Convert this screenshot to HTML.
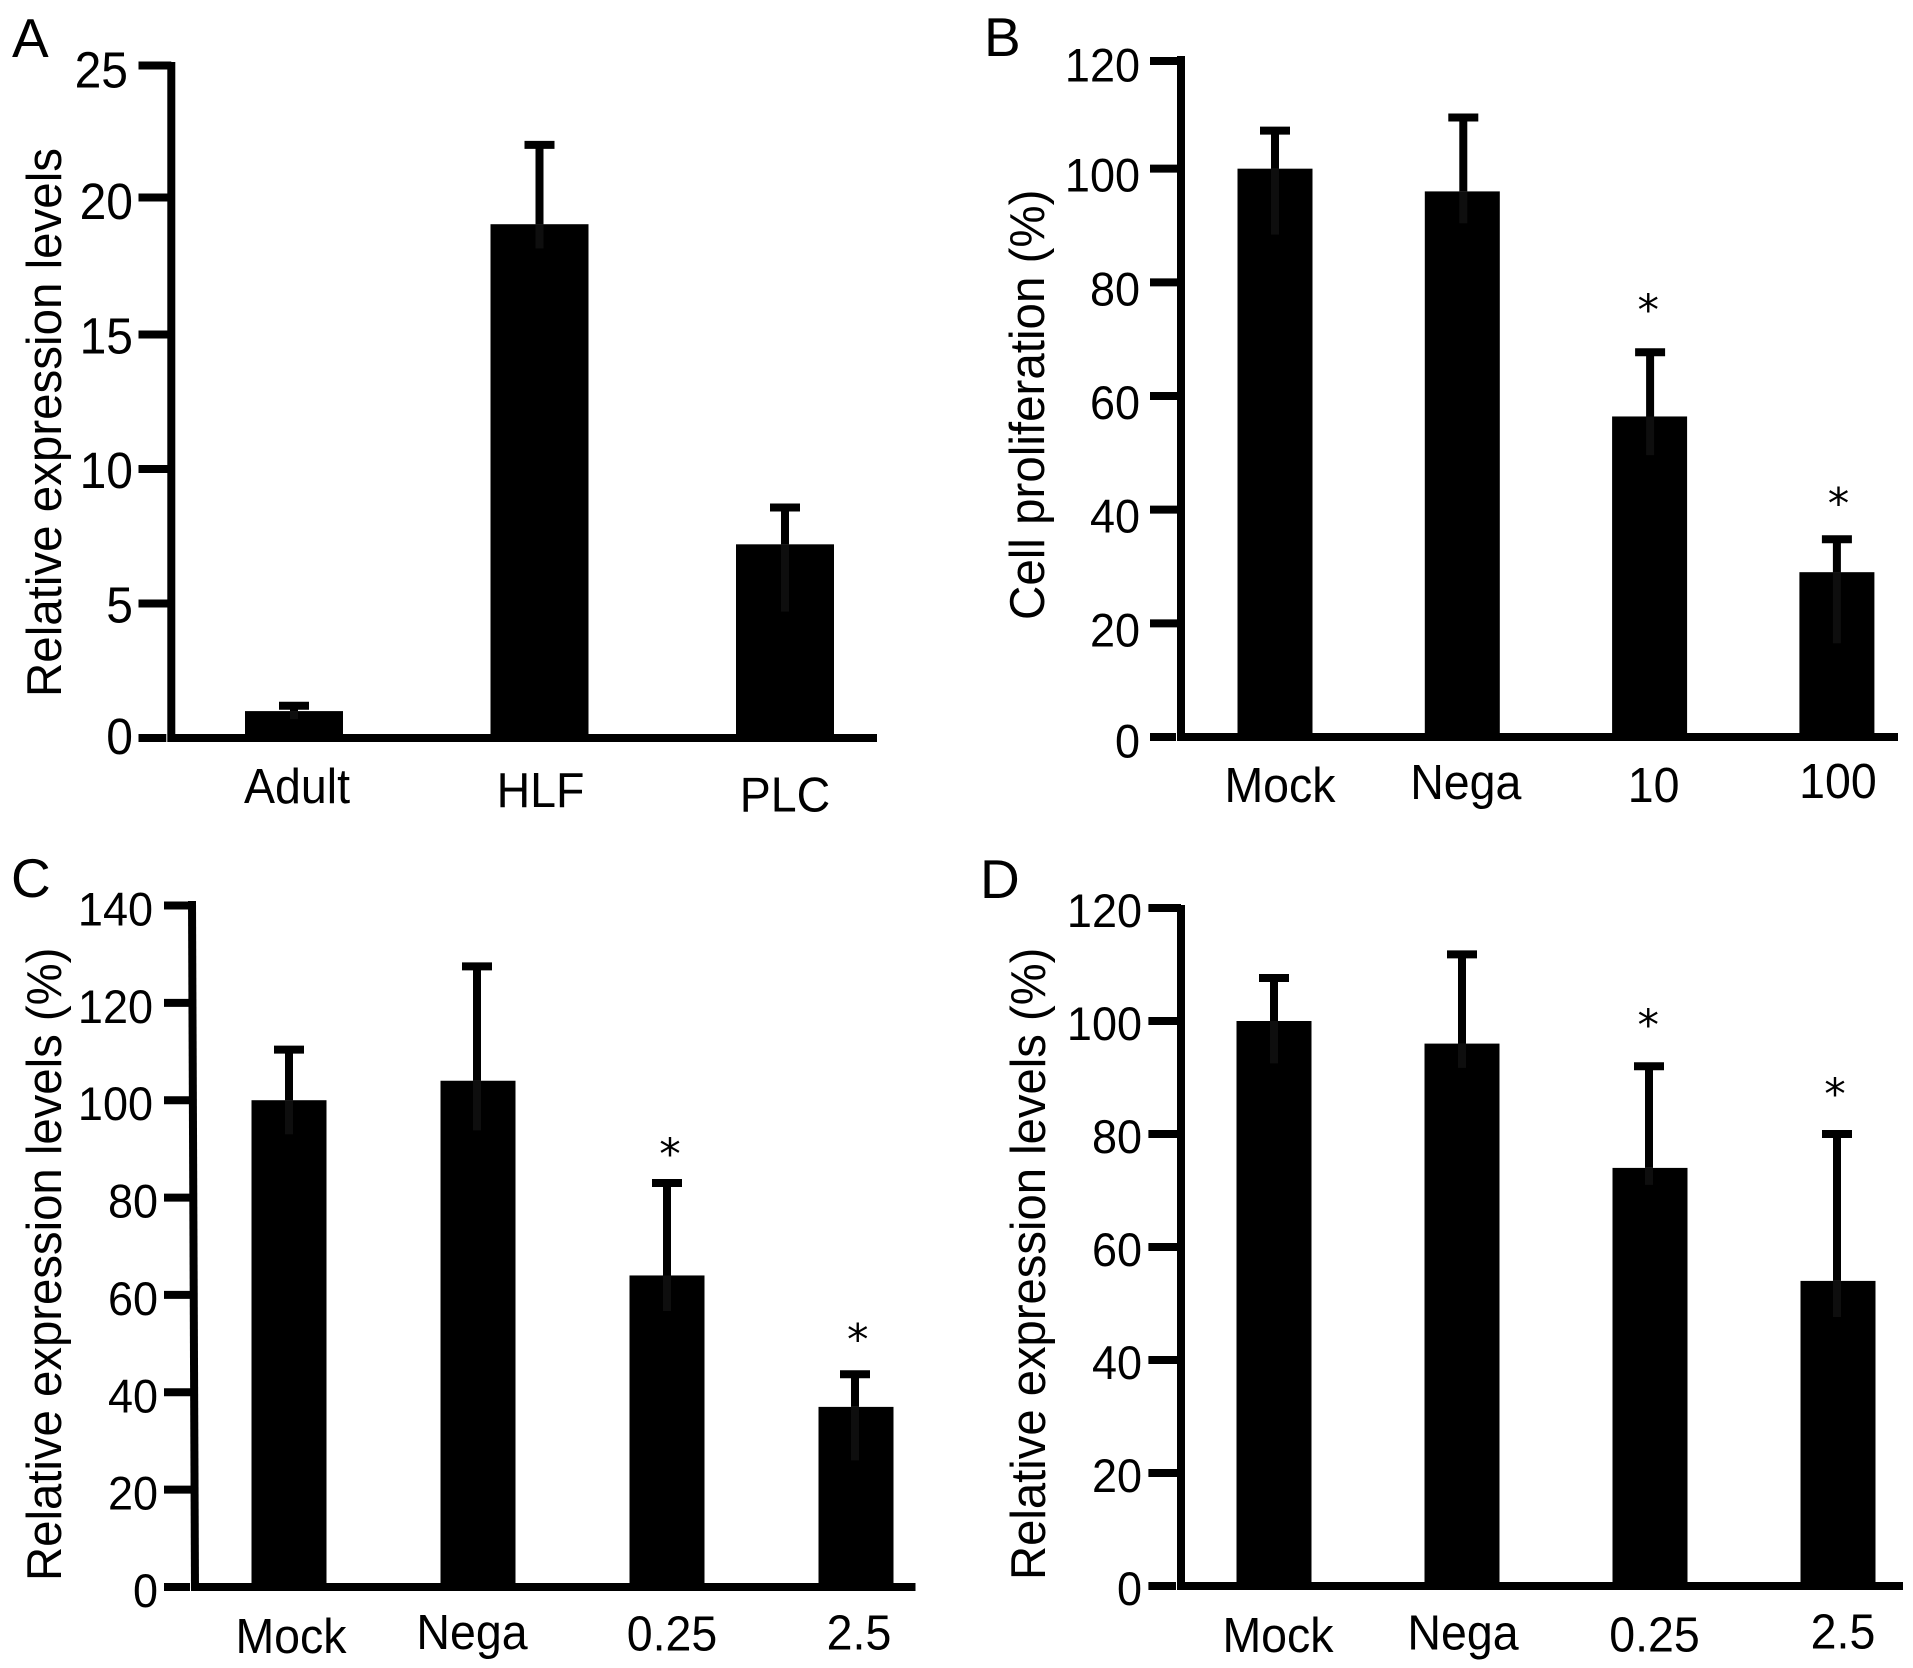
<!DOCTYPE html>
<html lang="en">
<head>
<meta charset="utf-8">
<title>Relative expression and cell proliferation bar charts</title>
<style>
html,body{margin:0;padding:0;background:#fff;}
svg{display:block;}
text{font-family:"Liberation Sans",sans-serif;fill:#000;}
</style>
</head>
<body>
<svg id="figure" xmlns="http://www.w3.org/2000/svg" width="1913" height="1668" viewBox="0 0 1913 1668">
  <rect x="0" y="0" width="1913" height="1668" fill="#fff"/>
  <g id="panel-a">
    <text x="12" y="57" font-size="55">A</text>
  </g>
  <g id="panel-b">
    <text x="984" y="56" font-size="55">B</text>
  </g>
  <g id="panel-c">
    <text x="11" y="897" font-size="55">C</text>
  </g>
  <g id="panel-d">
    <text x="980" y="898" font-size="55">D</text>
  </g>
</svg>
<script>
// Panel A data
const panelACategories = ['Adult', 'HLF', 'PLC'];
const panelAMeans = [1, 19.1, 7.2];
const panelAUpper = [1.2, 22.05, 8.57];
const panelALower = [0.7, 18.2, 4.7];
const panelATicks = [0, 5, 10, 15, 20, 25];
const panelAStars = [false, false, false];

// Panel B data
const panelBCategories = ['Mock', 'Nega', '10', '100'];
const panelBMeans = [100, 96, 56.4, 29];
const panelBUpper = [106.7, 109, 67.7, 34.8];
const panelBLower = [88.4, 90.4, 49.6, 16.5];
const panelBTicks = [0, 20, 40, 60, 80, 100, 120];
const panelBStars = [false, false, true, true];

// Panel C data
const panelCCategories = ['Mock', 'Nega', '0.25', '2.5'];
const panelCMeans = [100, 104, 64, 37];
const panelCUpper = [110.4, 127.5, 83, 43.7];
const panelCLower = [93, 93.8, 56.7, 26];
const panelCTicks = [0, 20, 40, 60, 80, 100, 120, 140];
const panelCStars = [false, false, true, true];

// Panel D data
const panelDCategories = ['Mock', 'Nega', '0.25', '2.5'];
const panelDMeans = [100, 96, 74, 54];
const panelDUpper = [107.6, 111.8, 92, 80];
const panelDLower = [92.5, 91.7, 71, 47.6];
const panelDTicks = [0, 20, 40, 60, 80, 100, 120];
const panelDStars = [false, false, true, true];

const SVG_NS = 'http://www.w3.org/2000/svg';
const TEXT_STRETCH = 1.06;

function makeSvg(tag, attrs) {
  const el = document.createElementNS(SVG_NS, tag);
  Object.keys(attrs).forEach(function (k) { el.setAttribute(k, attrs[k]); });
  return el;
}

function drawPanel(id, data, layout) {
  const root = document.getElementById(id);
  const yScale = function (v) { return layout.y0 - (v / layout.yMax) * (layout.y0 - layout.yTopTick); };
  const xScale = function (i) { return layout.firstCenter + layout.step * i; };
  const capHalf = 15;

  data.categories.forEach(function (cat, i) {
    const cx = xScale(i);
    const ex = cx + layout.errDx[i];
    const bar = makeSvg('rect', {
      x: cx - layout.barWidth / 2,
      y: yScale(data.means[i]),
      width: layout.barWidth,
      height: layout.y0 - yScale(data.means[i]),
      fill: '#000'
    });
    
    
    root.appendChild(bar);

    const stem = makeSvg('line', {
      x1: ex, x2: ex,
      y1: yScale(data.upper[i]), y2: yScale(data.means[i]),
      stroke: '#000', 'stroke-width': 8
    });
    
    
    root.appendChild(stem);

    const lowerStem = makeSvg('line', {
      x1: ex, x2: ex,
      y1: yScale(data.means[i]), y2: yScale(data.lower[i]),
      stroke: '#0e0e0e', 'stroke-width': 8
    });
    
    
    root.appendChild(lowerStem);

    const cap = makeSvg('line', {
      x1: ex - capHalf, x2: ex + capHalf,
      y1: yScale(data.upper[i]), y2: yScale(data.upper[i]),
      stroke: '#000', 'stroke-width': 8
    });
    
    
    root.appendChild(cap);

    if (data.stars[i]) {
      const star = makeSvg('text', {
        x: cx + layout.starDx[i],
        y: yScale(data.upper[i]) - layout.starGap[i] + 21,
        'font-size': 43,
        'text-anchor': 'middle',
        style: 'font-family:"DejaVu Sans",sans-serif'
      });
      star.textContent = '*';
      
      
      root.appendChild(star);
    }

    const catLabel = makeSvg('text', {
      x: 0,
      y: 0,
      transform: 'translate(' + (cx + layout.xLabelDx[i]) + ' ' + layout.xLabelBase[i] + ') scale(1 ' + TEXT_STRETCH + ')',
      'font-size': 46.5,
      'text-anchor': 'middle'
    });
    catLabel.textContent = cat;
    
    
    root.appendChild(catLabel);
  });

  const yAxis = makeSvg('line', {
    x1: layout.axisTopX, x2: layout.axisBottomX,
    y1: layout.axisTop, y2: layout.y0 + 4,
    stroke: '#000', 'stroke-width': layout.axisWidth
  });
  
  
  root.appendChild(yAxis);

  const xAxis = makeSvg('line', {
    x1: layout.axisBottomX, x2: layout.axisRight,
    y1: layout.y0, y2: layout.y0,
    stroke: '#000', 'stroke-width': layout.axisWidth
  });
  
  
  root.appendChild(xAxis);

  data.ticks.forEach(function (v) {
    const tickY = yScale(v) + (layout.tickNudge[v] || 0);
    const tick = makeSvg('line', {
      x1: layout.tickLeft, x2: layout.axisBottomX - (v === 0 ? layout.axisWidth / 2 + 1 : 0),
      y1: tickY, y2: tickY,
      stroke: '#000', 'stroke-width': 8
    });
    
    
    root.appendChild(tick);

    const labelX = (v >= 100 ? layout.tickLabelEndWide : layout.tickLabelEnd) + (layout.tickLabelDx[v] || 0);
    const labelY = yScale(v) + layout.tickLabelDy + (layout.tickLabelNudge[v] || 0) + 17;
    const tickLabel = makeSvg('text', {
      x: 0,
      y: 0,
      transform: 'translate(' + labelX + ' ' + labelY + ') scale(1 ' + TEXT_STRETCH + ')',
      'font-size': layout.tickFont,
      'text-anchor': 'end'
    });
    tickLabel.textContent = String(v);
    
    
    root.appendChild(tickLabel);
  });

  const yc = (layout.titleTop + layout.titleBottom) / 2;
  const title = makeSvg('text', {
    x: layout.titleBase,
    y: yc,
    'font-size': 49,
    'text-anchor': 'middle',
    textLength: layout.titleBottom - layout.titleTop,
    lengthAdjust: 'spacingAndGlyphs',
    transform: 'rotate(-90 ' + layout.titleBase + ' ' + yc + ')'
  });
  title.textContent = data.title;
  
  
  root.appendChild(title);
}

drawPanel('panel-a', {
  title: 'Relative expression levels',
  categories: panelACategories, means: panelAMeans, upper: panelAUpper, lower: panelALower,
  ticks: panelATicks, stars: panelAStars
}, {
  y0: 738, yMax: 25, yTopTick: 65.5, axisTop: 62, axisTopX: 171.3, axisBottomX: 171.3, axisRight: 877,
  axisWidth: 8, tickLeft: 138.5, firstCenter: 294, step: 245.5, barWidth: 98,
  errDx: [0, 0, 0], starGap: [0, 0, 0], starDx: [0, 0, 0],
  xLabelDx: [3, 1, 0], xLabelBase: [803, 807, 811.5],
  tickFont: 48, tickLabelEnd: 133, tickLabelEndWide: 133, tickLabelDy: 2,
  tickNudge: {20: -2.5}, tickLabelNudge: {25: 3, 0: -3}, tickLabelDx: {25: -5},
  titleBase: 61, titleTop: 148, titleBottom: 697
});

drawPanel('panel-b', {
  title: 'Cell proliferation (%)',
  categories: panelBCategories, means: panelBMeans, upper: panelBUpper, lower: panelBLower,
  ticks: panelBTicks, stars: panelBStars
}, {
  y0: 737, yMax: 120, yTopTick: 55, axisTop: 56, axisTopX: 1181, axisBottomX: 1181, axisRight: 1898,
  axisWidth: 8, tickLeft: 1150, firstCenter: 1275, step: 187.3, barWidth: 75,
  errDx: [0, 1, 0.5, 0], starGap: [0, 0, 48, 41.5], starDx: [0, 0, -1.3, 1.6],
  xLabelDx: [5, 3.5, 4, 1], xLabelBase: [802, 799, 802, 798],
  tickFont: 45, tickLabelEnd: 1140, tickLabelEndWide: 1140, tickLabelDy: 6,
  tickNudge: {120: 6}, tickLabelNudge: {120: 3.7, 0: -2.5}, tickLabelDx: {},
  titleBase: 1044, titleTop: 189.5, titleBottom: 620
});

drawPanel('panel-c', {
  title: 'Relative expression levels (%)',
  categories: panelCCategories, means: panelCMeans, upper: panelCUpper, lower: panelCLower,
  ticks: panelCTicks, stars: panelCStars
}, {
  y0: 1587, yMax: 140, yTopTick: 905.5, axisTop: 901, axisTopX: 192, axisBottomX: 195, axisRight: 915.5,
  axisWidth: 8, tickLeft: 164, firstCenter: 289, step: 189, barWidth: 75,
  errDx: [0, -1, 0, -1], starGap: [0, 0, 35, 41], starDx: [0, 0, 3, 1.7],
  xLabelDx: [2, -6, 5, 3], xLabelBase: [1653, 1649, 1650.6, 1649.5],
  tickFont: 45, tickLabelEnd: 158, tickLabelEndWide: 153, tickLabelDy: 3,
  tickNudge: {}, tickLabelNudge: {}, tickLabelDx: {},
  titleBase: 61, titleTop: 947.6, titleBottom: 1581
});

drawPanel('panel-d', {
  title: 'Relative expression levels (%)',
  categories: panelDCategories, means: panelDMeans, upper: panelDUpper, lower: panelDLower,
  ticks: panelDTicks, stars: panelDStars
}, {
  y0: 1586, yMax: 120, yTopTick: 908, axisTop: 905, axisTopX: 1181, axisBottomX: 1181, axisRight: 1903,
  axisWidth: 8, tickLeft: 1148.4, firstCenter: 1274, step: 188, barWidth: 75,
  errDx: [0, 0, -1, -1], starGap: [0, 0, 47, 46], starDx: [0, 0, -1.7, -3],
  xLabelDx: [4, 1, 4.5, 5], xLabelBase: [1652, 1649.5, 1651.6, 1648.5],
  tickFont: 45, tickLabelEnd: 1142, tickLabelEndWide: 1142, tickLabelDy: 2,
  tickNudge: {}, tickLabelNudge: {}, tickLabelDx: {},
  titleBase: 1045, titleTop: 947.6, titleBottom: 1580
});
</script>
</body>
</html>
